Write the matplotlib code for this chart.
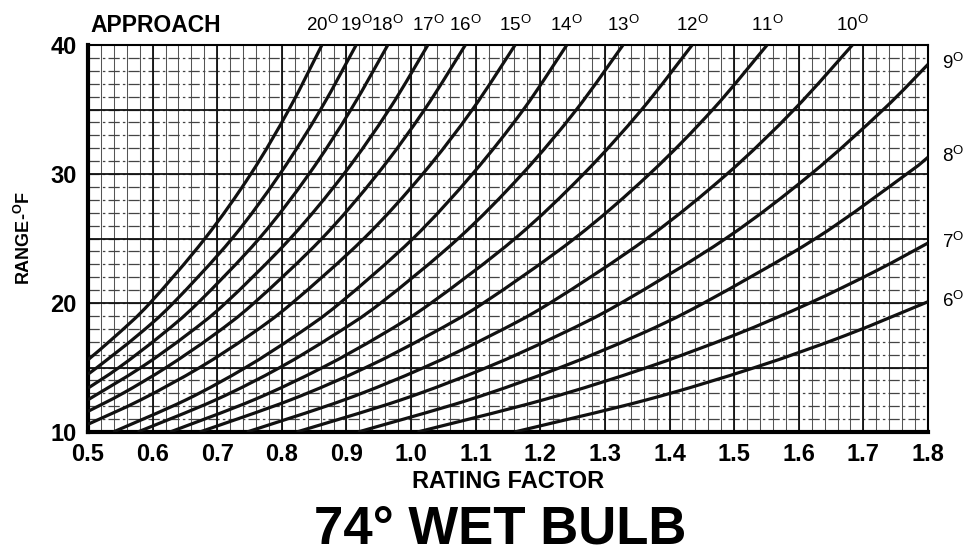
import matplotlib.pyplot as plt
from matplotlib.path import Path
from matplotlib.patches import PathPatch
import numpy as np

plt.rcParams['font.family'] = 'Liberation Sans'
plt.rcParams['mathtext.fontset'] = 'custom'
plt.rcParams['mathtext.rm'] = 'Liberation Sans'
plt.rcParams['mathtext.bf'] = 'Liberation Sans:bold'

# approach curves, degrees F
approach = [20, 19, 18, 17, 16, 15, 14, 13, 12, 11, 10, 9, 8, 7, 6]

# rating factor / range (deg F) along each approach curve
rating = [
	[0.500, 0.544, 0.596, 0.681, 0.752, 0.811, 0.862],
	[0.500, 0.514, 0.577, 0.632, 0.723, 0.797, 0.860, 0.915],
	[0.500, 0.548, 0.613, 0.670, 0.765, 0.842, 0.907, 0.964],
	[0.500, 0.582, 0.652, 0.713, 0.813, 0.896, 0.966, 1.026],
	[0.500, 0.554, 0.621, 0.694, 0.757, 0.862, 0.948, 1.021, 1.084],
	[0.500, 0.582, 0.673, 0.750, 0.816, 0.927, 1.018, 1.095, 1.161],
	[0.539, 0.652, 0.744, 0.822, 0.890, 1.003, 1.095, 1.174, 1.241],
	[0.577, 0.698, 0.797, 0.880, 0.953, 1.073, 1.172, 1.256, 1.328],
	[0.627, 0.757, 0.863, 0.953, 1.031, 1.161, 1.267, 1.357, 1.435],
	[0.673, 0.814, 0.930, 1.027, 1.112, 1.253, 1.369, 1.467, 1.551],
	[0.746, 0.897, 1.020, 1.124, 1.215, 1.365, 1.489, 1.593, 1.683],
	[0.823, 0.985, 1.117, 1.228, 1.325, 1.487, 1.619, 1.731, 1.800],
	[0.918, 1.090, 1.231, 1.351, 1.453, 1.626, 1.767, 1.800],
	[1.010, 1.205, 1.365, 1.500, 1.617, 1.720, 1.800],
	[1.160, 1.365, 1.532, 1.673, 1.800],
]
range_f = [
	[15.6, 17.5, 20, 25, 30, 35, 40],
	[14.5, 15, 17.5, 20, 25, 30, 35, 40],
	[13.4, 15, 17.5, 20, 25, 30, 35, 40],
	[12.5, 15, 17.5, 20, 25, 30, 35, 40],
	[11.6, 13, 15, 17.5, 20, 25, 30, 35, 40],
	[10.6, 12.5, 15, 17.5, 20, 25, 30, 35, 40],
	[10, 12.5, 15, 17.5, 20, 25, 30, 35, 40],
	[10, 12.5, 15, 17.5, 20, 25, 30, 35, 40],
	[10, 12.5, 15, 17.5, 20, 25, 30, 35, 40],
	[10, 12.5, 15, 17.5, 20, 25, 30, 35, 40],
	[10, 12.5, 15, 17.5, 20, 25, 30, 35, 40],
	[10, 12.5, 15, 17.5, 20, 25, 30, 35, 38.5],
	[10, 12.5, 15, 17.5, 20, 25, 30, 31.3],
	[10, 12.5, 15, 17.5, 20, 22.5, 24.65],
	[10, 12.5, 15, 17.5, 20.1],
]

x_ticks = [0.5, 0.6, 0.7, 0.8, 0.9, 1.0, 1.1, 1.2, 1.3, 1.4, 1.5, 1.6, 1.7, 1.8]
y_ticks = [10, 15, 20, 25, 30, 35, 40]
y_labels = ['10', '', '20', '', '30', '', '40']


def smooth_path(xs, ys):
	# Catmull-Rom through the points, written as cubic bezier segments
	p = np.column_stack([xs, ys])
	p = np.vstack([p[0], p, p[-1]])
	verts = [p[1]]
	codes = [Path.MOVETO]
	for i in range(1, len(p) - 2):
		c1 = p[i] + (p[i + 1] - p[i - 1]) / 6.0
		c2 = p[i + 1] - (p[i + 2] - p[i]) / 6.0
		verts += [c1, c2, p[i + 1]]
		codes += [Path.CURVE4] * 3
	return Path(verts, codes)


fig = plt.figure(figsize=(9.71, 5.55), dpi=100)
ax = fig.add_axes([88/971, 123/555, 840/971, 387/555])

ax.set_xlim(0.5, 1.8)
ax.set_ylim(10, 40)

ax.set_xticks(x_ticks)
ax.set_xticklabels(['%.1f' % v for v in x_ticks])
ax.set_yticks(y_ticks)
ax.set_yticklabels(y_labels)

# fine grid: solid verticals, broken horizontals like the printed chart paper
for v in np.arange(0.5, 1.8, 0.02):
	ax.axvline(v, color='#555555', linewidth=0.75, zorder=0.5)
for h in np.arange(10, 40, 1):
	ax.axhline(h, color='#444444', linewidth=0.9, dashes=(9, 2.5, 2, 2.5), zorder=0.5)
ax.grid(which='major', color='#111111', linewidth=1.3, zorder=0.8)
ax.set_axisbelow(True)

ax.tick_params(which='both', length=0)
ax.tick_params(axis='x', pad=8, labelsize=17)
ax.tick_params(axis='y', pad=8, labelsize=17)
for lab in ax.get_xticklabels() + ax.get_yticklabels():
	lab.set_fontweight('bold')

for side in ['left', 'bottom']:
	ax.spines[side].set_linewidth(3)
for side in ['top', 'right']:
	ax.spines[side].set_linewidth(1.5)

for a, xs, ys in zip(approach, rating, range_f):
	ax.add_patch(PathPatch(smooth_path(xs, ys), fill=False, edgecolor='#111111',
		linewidth=2.3, capstyle='butt', zorder=3))
	label = '%d$^{\\rm O}$' % a
	if ys[-1] >= 40:
		ax.annotate(label, xy=(xs[-1], 1.0), xycoords=('data', 'axes fraction'),
			xytext=(0, 7), textcoords='offset points', ha='center', va='bottom',
			fontsize=13.5, annotation_clip=False)
	else:
		ax.annotate(label, xy=(1.0, ys[-1]), xycoords=('axes fraction', 'data'),
			xytext=(10, 1), textcoords='offset points', ha='left', va='center',
			fontsize=13.5, annotation_clip=False)

fig.text(90/971, (555 - 32)/555, 'APPROACH', ha='left', va='baseline',
	fontsize=16.5, fontweight='bold')
ax.set_xlabel('RATING FACTOR', fontsize=17, fontweight='bold', labelpad=3)
ax.set_ylabel('RANGE-$^{\\bf O}$F', fontsize=13, fontweight='bold', labelpad=12)

fig.text(0.515, 11/555, '74\u00b0 WET BULB', ha='center', va='baseline',
	fontsize=38, fontweight='bold')

plt.savefig('out.png', dpi=100)
